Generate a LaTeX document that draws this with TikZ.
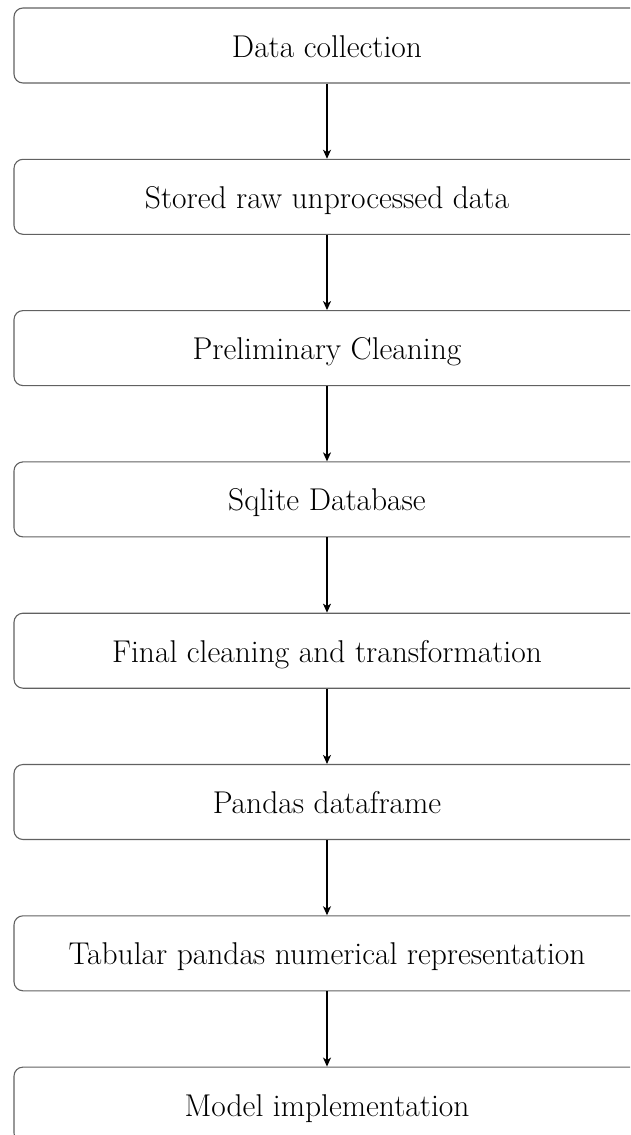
\documentclass[tikz,border=0pt]{standalone}
\usetikzlibrary{arrows.meta}
\begin{document}
\begin{tikzpicture}[x=1pt,y=-1pt,
  stagebox/.style={draw=black!62,line width=1.1pt,rounded corners=9pt,minimum width=700pt,minimum height=75pt,inner sep=0pt},
  stagetext/.style={font=\fontsize{31.5}{36}\selectfont,inner sep=0pt,anchor=base},
  flow/.style={-{Stealth[length=9pt,width=8pt,inset=2.5pt]},line width=1.2pt,black}]
\useasboundingbox (0,0) rectangle (630,1135);
\clip (0,0) rectangle (630,1135);
\foreach \i/\t in {1/Data collection,2/Stored raw unprocessed data,3/Preliminary Cleaning,4/Sqlite Database,5/Final cleaning and transformation,6/Pandas dataframe,7/Tabular pandas numerical representation,8/Model implementation}{
  \node[stagebox] (b\i) at (364,{8+151.3*(\i-1)+37.5}) {};
  \node[stagetext] (t\i) at (327,{8+151.3*(\i-1)+49}) {\t};
}
\foreach \i [evaluate=\i as \j using int(\i+1)] in {1,...,7}{
  \draw[flow] (t\i |- b\i.south) -- (t\j |- b\j.north);
}
\end{tikzpicture}
\end{document}
